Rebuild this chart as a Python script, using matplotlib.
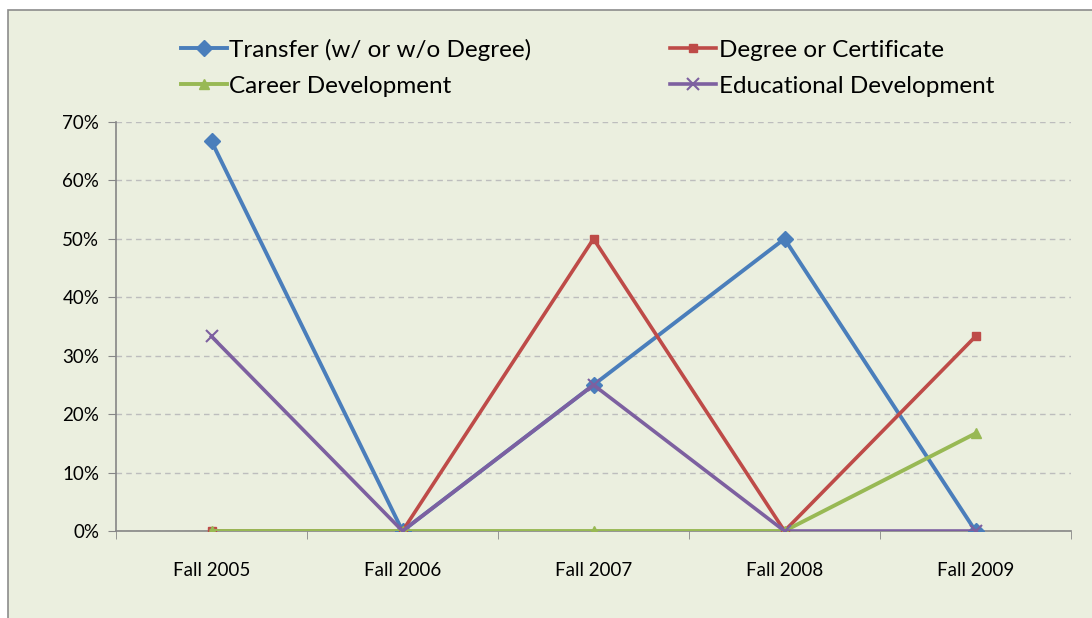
import matplotlib.pyplot as plt
from matplotlib.patches import Rectangle

# chart data (share of students, %)
terms = ['Fall 2005', 'Fall 2006', 'Fall 2007', 'Fall 2008', 'Fall 2009']
transfer = [66.7, 0, 25, 50, 0]
degree = [0, 0, 50, 0, 33.3]
career = [0, 0, 0, 0, 16.7]
educational = [33.3, 0, 25, 0, 0]
yticks = [0, 10, 20, 30, 40, 50, 60, 70]

plt.rcParams['font.family'] = ['Lato', 'DejaVu Sans']

bg = '#EBEFDF'
fig = plt.figure(figsize=(10.92, 6.18), dpi=100)
fig.patch.set_facecolor('white')
# outer chart frame
fig.patches.append(Rectangle((8 / 1092, -0.05), 1.1, (618 - 10) / 618 + 0.05,
                             transform=fig.transFigure, facecolor=bg,
                             edgecolor='#8C8C8C', linewidth=1.2, zorder=-1))

ax = fig.add_axes([116 / 1092, (618 - 531) / 618, 955 / 1092, 409 / 618])
ax.set_facecolor(bg)
x = list(range(len(terms)))

l1, = ax.plot(x, transfer, color='#4A7EBB', lw=2.8, marker='D', ms=8,
              label='Transfer (w/ or w/o Degree)', zorder=3)
l2, = ax.plot(x, degree, color='#BE4B48', lw=2.6, marker='s', ms=6,
              label='Degree or Certificate', zorder=4)
l3, = ax.plot(x, career, color='#98B954', lw=2.8, marker='^', ms=7,
              label='Career Development', zorder=5)
l4, = ax.plot(x, educational, color='#7D60A0', lw=2.6, marker='x', ms=9,
              mew=1.5, label='Educational Development', zorder=6)

ax.set_xlim(-0.5, 4.5)
ax.set_ylim(0, 70)
ax.set_yticks(yticks)
ax.set_yticklabels([f'{v}%' for v in yticks], fontsize=13.5)
ax.set_xticks(x)
ax.set_xticklabels(terms, fontsize=13.5)
ax.set_xticks([i - 0.5 for i in range(len(terms) + 1)], minor=True)
ax.tick_params(axis='x', which='major', length=0, pad=22)
ax.tick_params(axis='x', which='minor', length=6, color='#868686', direction='out')
ax.tick_params(axis='y', length=6, color='#868686', pad=6)
ax.yaxis.grid(True, color='#BDBDBD', linestyle=(0, (4, 3)), lw=1)
ax.set_axisbelow(True)
for side in ['top', 'right']:
    ax.spines[side].set_visible(False)
for side in ['left', 'bottom']:
    ax.spines[side].set_color('#868686')
    ax.spines[side].set_linewidth(1.2)
ax.spines['bottom'].set_zorder(2)

fig.legend([l1, l3, l2, l4],
           [l1.get_label(), l3.get_label(), l2.get_label(), l4.get_label()],
           ncol=2, loc='upper left', bbox_to_anchor=(171 / 1092, 1 - 29 / 618),
           frameon=False, fontsize=17.5, handlelength=1.9, handletextpad=0.1,
           columnspacing=5.7, labelspacing=0.62, borderaxespad=0)

plt.savefig('out.png', dpi=100, facecolor='white')
